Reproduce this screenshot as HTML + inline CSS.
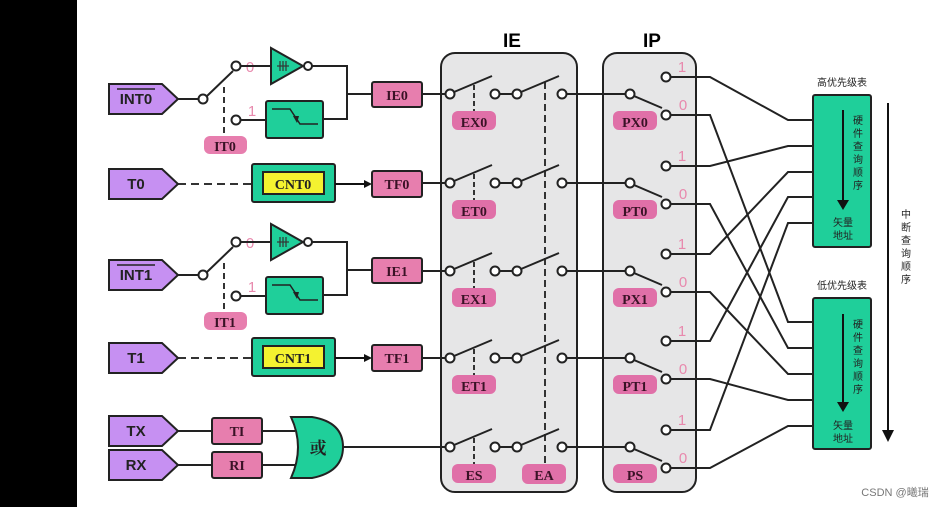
<!DOCTYPE html>
<html><head><meta charset="utf-8"><style>
html,body{margin:0;padding:0;background:#fff;width:944px;height:507px;overflow:hidden}
svg{display:block}
.s{font-family:"Liberation Serif","Noto Serif CJK SC",serif;font-weight:bold}
.a{font-family:"Liberation Sans","Noto Sans CJK SC",sans-serif}
</style></head><body>
<svg width="944" height="507" viewBox="0 0 944 507" xmlns="http://www.w3.org/2000/svg">
<defs>
<marker id="ah" markerWidth="8" markerHeight="8" refX="6" refY="4" orient="auto" markerUnits="userSpaceOnUse"><path d="M0,0 L8,4 L0,8 Z" fill="#111"/></marker>
<g id="inp">
  <!-- pivot at y=0 -->
  <line x1="178" y1="0" x2="199" y2="0" stroke="#222" stroke-width="2"/>
  <circle cx="203" cy="0" r="4.5" fill="#fff" stroke="#222" stroke-width="2"/>
  <line x1="207" y1="-3" x2="233" y2="-28" stroke="#222" stroke-width="2"/>
  <circle cx="236" cy="-33" r="4.5" fill="#fff" stroke="#222" stroke-width="2"/>
  <circle cx="236" cy="21" r="4.5" fill="#fff" stroke="#222" stroke-width="2"/>
  <line x1="224" y1="-12" x2="224" y2="37" stroke="#333" stroke-width="2" stroke-dasharray="6,4"/>
  <text x="250" y="-27" fill="#e889ad" font-size="15" class="a" text-anchor="middle">0</text>
  <text x="252" y="17" fill="#e889ad" font-size="15" class="a" text-anchor="middle">1</text>
  <line x1="240" y1="-33" x2="270" y2="-33" stroke="#222" stroke-width="2"/>
  <polygon points="271,-51 271,-15 303,-33" fill="#1fcf9a" stroke="#222" stroke-width="2"/>
  <line x1="280" y1="-38" x2="280" y2="-28" stroke="#333" stroke-width="1.2"/>
  <line x1="283" y1="-38" x2="283" y2="-28" stroke="#333" stroke-width="1.2"/>
  <line x1="286" y1="-38" x2="286" y2="-28" stroke="#333" stroke-width="1.2"/>
  <line x1="277" y1="-33" x2="289" y2="-33" stroke="#333" stroke-width="1.2"/>
  <circle cx="308" cy="-33" r="4" fill="#fff" stroke="#222" stroke-width="2"/>
  <polyline points="312,-33 347,-33 347,20 323,20" fill="none" stroke="#222" stroke-width="2"/>
  <line x1="240" y1="21" x2="266" y2="21" stroke="#222" stroke-width="2"/>
  <rect x="266" y="2" width="57" height="37" rx="2" fill="#1fcf9a" stroke="#222" stroke-width="2"/>
  <polyline points="272,10 290,10 300,25 318,25" fill="none" stroke="#222" stroke-width="1.5"/>
  <path d="M293,17 L297,24 L299,17 Z" fill="#222"/>
  <line x1="347" y1="-5" x2="372" y2="-5" stroke="#222" stroke-width="2"/>
  <rect x="204" y="37" width="43" height="18" rx="6" fill="#e77eae"/>
</g>
<g id="cnt">
  <line x1="178" y1="0" x2="252" y2="0" stroke="#333" stroke-width="2" stroke-dasharray="8,5"/>
  <rect x="252" y="-20" width="83" height="38" rx="2" fill="#1fcf9a" stroke="#222" stroke-width="2"/>
  <rect x="263" y="-12" width="61" height="22" fill="#f4f230" stroke="#222" stroke-width="2"/>
  <line x1="335" y1="0" x2="370" y2="0" stroke="#111" stroke-width="2" marker-end="url(#ah)"/>
</g>
<g id="ie">
  <circle cx="450" cy="0" r="4.5" fill="#fff" stroke="#222" stroke-width="2"/>
  <line x1="454" y1="-2" x2="492" y2="-18" stroke="#222" stroke-width="2"/>
  <line x1="474" y1="-9" x2="474" y2="17" stroke="#333" stroke-width="2" stroke-dasharray="5,3"/>
  <circle cx="495" cy="0" r="4.5" fill="#fff" stroke="#222" stroke-width="2"/>
  <line x1="499" y1="0" x2="513" y2="0" stroke="#222" stroke-width="2"/>
  <circle cx="517" cy="0" r="4.5" fill="#fff" stroke="#222" stroke-width="2"/>
  <line x1="521" y1="-2" x2="559" y2="-18" stroke="#222" stroke-width="2"/>
  <line x1="566" y1="0" x2="626" y2="0" stroke="#222" stroke-width="2"/>
  <circle cx="562" cy="0" r="4.5" fill="#fff" stroke="#222" stroke-width="2"/>
  <circle cx="630" cy="0" r="4.5" fill="#fff" stroke="#222" stroke-width="2"/>
  <line x1="634" y1="2" x2="662" y2="14" stroke="#222" stroke-width="2"/>
  <circle cx="666" cy="21" r="4.5" fill="#fff" stroke="#222" stroke-width="2"/>
  <circle cx="666" cy="-17" r="4.5" fill="#fff" stroke="#222" stroke-width="2"/>
  <text x="682" y="-22" fill="#e889ad" font-size="15" class="a" text-anchor="middle">1</text>
  <text x="683" y="16" fill="#e889ad" font-size="15" class="a" text-anchor="middle">0</text>
  <rect x="452" y="17" width="44" height="19" rx="6" fill="#e070a8"/>
  <rect x="613" y="17" width="44" height="19" rx="6" fill="#e070a8"/>
</g>
</defs>

<rect x="0" y="0" width="77" height="507" fill="#000"/>

<!-- IE / IP boxes -->
<text x="512" y="47" font-size="19" font-weight="bold" class="a" text-anchor="middle">IE</text>
<text x="652" y="47" font-size="19" font-weight="bold" class="a" text-anchor="middle">IP</text>
<rect x="441" y="53" width="136" height="439" rx="14" fill="#e6e6e7" stroke="#222" stroke-width="2"/>
<rect x="603" y="53" width="93" height="439" rx="14" fill="#e6e6e7" stroke="#222" stroke-width="2"/>
<line x1="545" y1="82" x2="545" y2="467" stroke="#333" stroke-width="2" stroke-dasharray="7,4"/>

<!-- wires right -->
<g fill="none" stroke="#222" stroke-width="2">
<polyline points="670,77 710,77 788,120 813,120"/>
<polyline points="670,115 710,115 788,322 813,322"/>
<polyline points="670,166 710,166 788,146 813,146"/>
<polyline points="670,204 710,204 788,348 813,348"/>
<polyline points="670,254 710,254 788,172 813,172"/>
<polyline points="670,292 710,292 788,374 813,374"/>
<polyline points="670,341 710,341 788,197 813,197"/>
<polyline points="670,379 710,379 788,400 813,400"/>
<polyline points="670,430 710,430 788,223 813,223"/>
<polyline points="670,468 710,468 788,426 813,426"/>
</g>

<!-- IE rows -->
<use href="#ie" y="94"/>
<use href="#ie" y="183"/>
<use href="#ie" y="271"/>
<use href="#ie" y="358"/>
<use href="#ie" y="447"/>
<rect x="522" y="464" width="44" height="20" rx="6" fill="#e070a8"/>
<g class="s" font-size="14" fill="#3a1226" text-anchor="middle">
<text x="474" y="127">EX0</text><text x="635" y="127">PX0</text>
<text x="474" y="216">ET0</text><text x="635" y="216">PT0</text>
<text x="474" y="304">EX1</text><text x="635" y="304">PX1</text>
<text x="474" y="391">ET1</text><text x="635" y="391">PT1</text>
<text x="474" y="480">ES</text><text x="635" y="480">PS</text>
<text x="544" y="480">EA</text>
</g>

<!-- left side inputs -->
<use href="#inp" y="99"/>
<use href="#inp" y="275"/>
<use href="#cnt" y="184"/>
<use href="#cnt" y="358"/>
<g class="s" font-size="14" fill="#3a1226" text-anchor="middle">
<text x="225" y="151">IT0</text><text x="225" y="327">IT1</text>
</g>
<g class="s" font-size="14" fill="#222" text-anchor="middle">
<text x="293" y="189">CNT0</text><text x="293" y="363">CNT1</text>
</g>

<!-- pink register boxes -->
<g stroke="#222" stroke-width="2" fill="#e77eae">
<rect x="372" y="82" width="50" height="25" rx="2"/>
<rect x="372" y="171" width="50" height="26" rx="2"/>
<rect x="372" y="258" width="50" height="25" rx="2"/>
<rect x="372" y="345" width="50" height="26" rx="2"/>
<rect x="212" y="418" width="50" height="26" rx="2"/>
<rect x="212" y="452" width="50" height="26" rx="2"/>
</g>
<g stroke="#222" stroke-width="2">
<line x1="422" y1="94" x2="446" y2="94"/>
<line x1="422" y1="183" x2="446" y2="183"/>
<line x1="422" y1="271" x2="446" y2="271"/>
<line x1="422" y1="358" x2="446" y2="358"/>
<line x1="178" y1="431" x2="212" y2="431"/>
<line x1="178" y1="465" x2="212" y2="465"/>
<line x1="262" y1="431" x2="295" y2="431"/>
<line x1="262" y1="465" x2="295" y2="465"/>
<line x1="342" y1="447" x2="446" y2="447"/>
</g>
<g class="s" font-size="14" fill="#3a1226" text-anchor="middle">
<text x="397" y="100">IE0</text><text x="397" y="189">TF0</text>
<text x="397" y="276">IE1</text><text x="397" y="363">TF1</text>
<text x="237" y="436">TI</text><text x="237" y="470">RI</text>
</g>
<!-- OR gate -->
<path d="M291,417 L312,417 Q343,422 343,447 Q343,472 312,478 L291,478 Q305,447 291,417 Z" fill="#1fcf9a" stroke="#222" stroke-width="2"/>
<text x="318" y="454" font-size="17" class="s" text-anchor="middle" fill="#222">或</text>

<!-- tags -->
<g fill="#c690f2" stroke="#222" stroke-width="2">
<polygon points="109,84 162,84 178,99 162,114 109,114"/>
<polygon points="109,169 162,169 178,184 162,199 109,199"/>
<polygon points="109,260 162,260 178,275 162,290 109,290"/>
<polygon points="109,343 162,343 178,358 162,373 109,373"/>
<polygon points="109,416 162,416 178,431 162,446 109,446"/>
<polygon points="109,450 162,450 178,465 162,480 109,480"/>
</g>
<g class="a" font-size="15" font-weight="bold" fill="#222" text-anchor="middle">
<text x="136" y="104">INT0</text><line x1="117" y1="89" x2="155" y2="89" stroke="#222" stroke-width="1.5"/>
<text x="136" y="189">T0</text>
<text x="136" y="280">INT1</text><line x1="117" y1="265" x2="155" y2="265" stroke="#222" stroke-width="1.5"/>
<text x="136" y="363">T1</text>
<text x="136" y="436">TX</text>
<text x="136" y="470">RX</text>
</g>

<!-- priority tables -->
<g class="a" font-size="10" fill="#222" text-anchor="middle">
<text x="842" y="86">高优先级表</text>
<text x="842" y="289">低优先级表</text>
</g>
<rect x="813" y="95" width="58" height="152" rx="2" fill="#1fcf9a" stroke="#222" stroke-width="2"/>
<rect x="813" y="298" width="58" height="151" rx="2" fill="#1fcf9a" stroke="#222" stroke-width="2"/>
<line x1="843" y1="110" x2="843" y2="202" stroke="#111" stroke-width="2"/>
<path d="M837,200 L849,200 L843,210 Z" fill="#111"/>
<line x1="843" y1="314" x2="843" y2="404" stroke="#111" stroke-width="2"/>
<path d="M837,402 L849,402 L843,412 Z" fill="#111"/>
<g class="a" font-size="10" fill="#222" text-anchor="middle">
<text x="858" y="124">硬</text><text x="858" y="137">件</text><text x="858" y="150">查</text><text x="858" y="163">询</text><text x="858" y="176">顺</text><text x="858" y="189">序</text>
<text x="843" y="226">矢量</text><text x="843" y="239">地址</text>
<text x="858" y="328">硬</text><text x="858" y="341">件</text><text x="858" y="354">查</text><text x="858" y="367">询</text><text x="858" y="380">顺</text><text x="858" y="393">序</text>
<text x="843" y="429">矢量</text><text x="843" y="442">地址</text>
<text x="906" y="218">中</text><text x="906" y="231">断</text><text x="906" y="244">查</text><text x="906" y="257">询</text><text x="906" y="270">顺</text><text x="906" y="283">序</text>
</g>
<line x1="888" y1="103" x2="888" y2="432" stroke="#111" stroke-width="2"/>
<path d="M882,430 L894,430 L888,442 Z" fill="#111"/>

<text x="895" y="496" font-size="11" class="a" fill="#777" text-anchor="middle">CSDN @曦瑞</text>
</svg>
</body></html>
